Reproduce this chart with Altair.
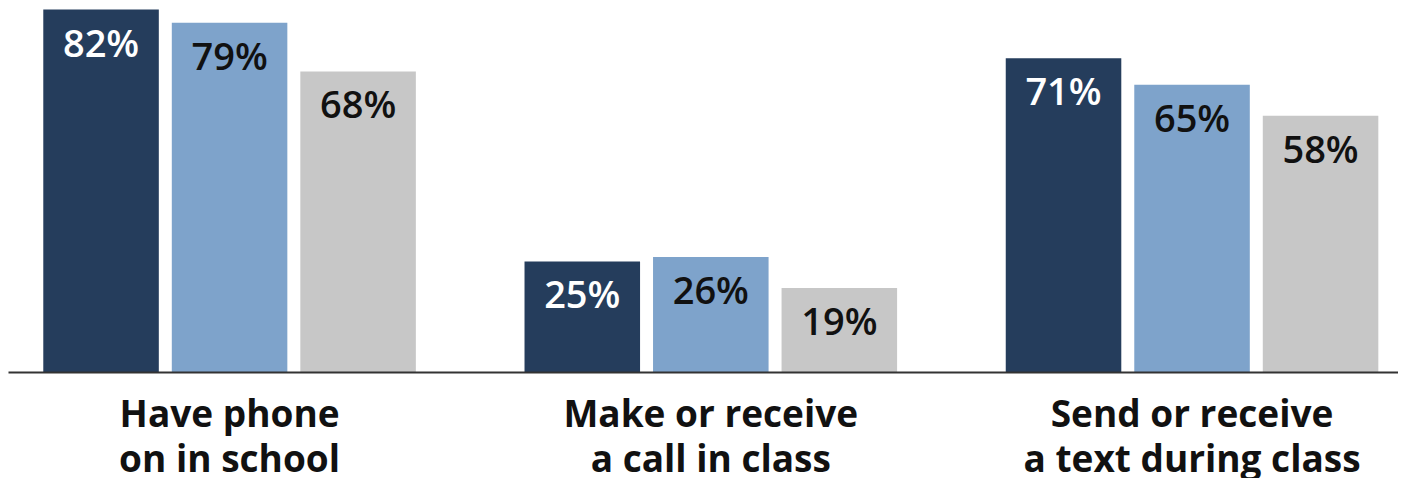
import altair as alt
import pandas as pd

categories = ["Have phone|on in school", "Make or receive|a call in class", "Send or receive|a text during class"]
series_names = ["Series 1", "Series 2", "Series 3"]
series1 = [82, 25, 71]
series2 = [79, 26, 65]
series3 = [68, 19, 58]
bar_colors = ["#253d5c", "#7ea3cb", "#c7c7c7"]
text_colors = ["#ffffff", "#111111", "#111111"]

rows = []
for s_name, vals, tc in zip(series_names, [series1, series2, series3], text_colors):
    for cat, v in zip(categories, vals):
        rows.append({"category": cat, "series": s_name, "value": v,
                     "label": f"{v}%", "tcolor": tc})
df = pd.DataFrame(rows)

base = alt.Chart(df).encode(
    x=alt.X("category:N", sort=categories,
            scale=alt.Scale(paddingInner=0.2258, paddingOuter=0.0571, align=0.642),
            axis=alt.Axis(title=None, labelExpr="split(datum.label, '|')",
                          labelAngle=0, labelFontSize=37, labelFont="Open Sans",
                          labelFontWeight="bold", labelColor="#111111", labelLimit=0,
                          labelLineHeight=45, labelPadding=25, labelBaseline="top",
                          ticks=False, domainColor="#333333", domainWidth=2, zindex=1)),
    xOffset=alt.XOffset("series:N", sort=series_names,
                        scale=alt.Scale(paddingInner=0.101, paddingOuter=0)),
    y=alt.Y("value:Q", scale=alt.Scale(domain=[0, 82.35], nice=False), axis=None),
)

bars = base.mark_bar().encode(
    color=alt.Color("series:N", scale=alt.Scale(domain=series_names, range=bar_colors), legend=None)
)

texts = base.mark_text(baseline="alphabetic", align="center", dy=47, font="Open Sans",
                       fontWeight=600, fontSize=38).encode(
    text="label:N",
    color=alt.Color("tcolor:N", scale=None),
)

chart = alt.layer(bars, texts).properties(width=1390, height=364, padding=0).configure_view(stroke=None)

chart.save("out.html", embed_options={"renderer": "svg", "actions": False})
